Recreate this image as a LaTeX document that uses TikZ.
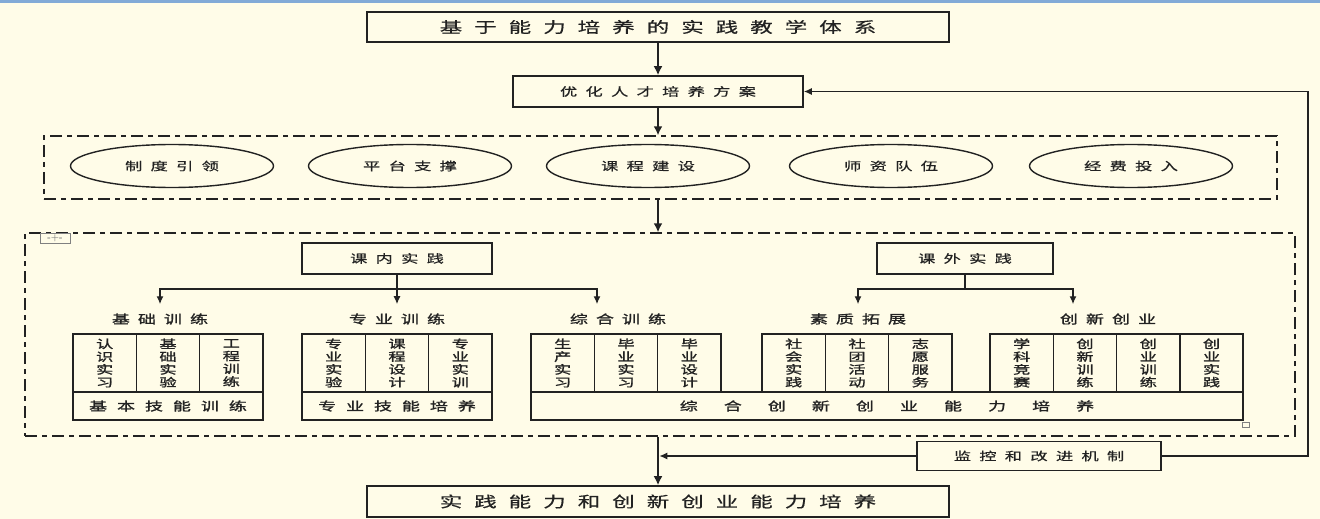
\documentclass[tikz,border=0pt]{standalone}
\usepackage{fontspec}
\usepackage{tikz}
\usetikzlibrary{shapes}
\usetikzlibrary{arrows.meta}
\newfontfamily\cjk[FakeStretch=1.5,FakeBold=0.6]{Noto Sans CJK SC}
\newfontfamily\cjkb[FakeStretch=1.5,FakeBold=1.5]{Noto Sans CJK SC}
\newcommand\fTitle{\cjk\fontsize{15}{18}\selectfont\addfontfeatures{LetterSpace=80}}
\newcommand\fMid{\cjk\fontsize{11.5}{14}\selectfont\addfontfeatures{LetterSpace=72}}
\newcommand\fCat{\cjkb\fontsize{12}{14}\selectfont\addfontfeatures{LetterSpace=67}}
\newcommand\fBase{\cjkb\fontsize{12}{14}\selectfont\addfontfeatures{LetterSpace=83}}
\newcommand\fWide{\cjkb\fontsize{12}{14}\selectfont\addfontfeatures{LetterSpace=217}}
\newcommand\fCol{\cjkb\fontsize{11.5}{12.8}\selectfont}
\definecolor{paper}{RGB}{255,252,232}
\definecolor{ink}{RGB}{34,34,34}
\definecolor{topbar}{RGB}{130,170,215}
\tikzset{
  box/.style={draw=ink,line width=1.6pt,rectangle,inner sep=0pt,text=ink},
  frame/.style={draw=ink,line width=1.4pt,dash pattern=on 12pt off 5pt on 5pt off 5pt,inner sep=0pt},
  oval/.style={draw=ink,line width=1.4pt,ellipse,minimum width=203pt,minimum height=43pt,inner sep=0pt,text=ink,font=\fMid},
  cell/.style={box,minimum width=63.3pt,minimum height=58pt,align=center,font=\fCol},
  base/.style={box,minimum height=28pt},
  lbl/.style={inner xsep=0pt,inner ysep=9pt,text=ink,font=\fCat},
  flow/.style={draw=ink,line width=2.6pt,-{Latex[length=9pt,width=9pt]}},
  link/.style={draw=ink,line width=1.4pt,-{Latex[length=8pt,width=7pt]}},
}
\begin{document}
\begin{tikzpicture}[x=1pt,y=-1pt]
	% page
	\fill[paper] (0,0) rectangle (1320,519);
	\fill[topbar] (0,0) rectangle (1320,3);
	\useasboundingbox (0,0) rectangle (1320,519);
	% top of the flow
	\node[box,minimum width=582pt,minimum height=30pt,font=\fTitle] (title) at (658,27) {基于能力培养的实践教学体系};
	\node[box,minimum width=290pt,minimum height=31pt,font=\fMid] (plan) at (658,91.5) {优化人才培养方案};
	\node[frame,minimum width=1233pt,minimum height=63pt] (support) at (660.5,167.5) {};
	\node[oval] (e1) at (172,166) {制度引领};
	\node[oval] (e2) at (410,166) {平台支撑};
	\node[oval] (e3) at (648,166) {课程建设};
	\node[oval] (e4) at (891,166) {师资队伍};
	\node[oval] (e5) at (1131,166) {经费投入};
	% practice block
	\node[frame,minimum width=1270pt,minimum height=203pt] (practice) at (660,334.5) {};
	\node[draw=gray,line width=0.8pt,minimum width=30pt,minimum height=10pt,inner sep=0pt,font=\fontsize{9}{9}\selectfont\bfseries,text=gray] (grip) at (55,238) {-+-};
	\node[box,minimum width=190pt,minimum height=31pt,font=\fMid] (inner) at (397,258.5) {课内实践};
	\node[box,minimum width=176pt,minimum height=31pt,font=\fMid] (outer) at (965,258.5) {课外实践};
	\node[lbl] (lA) at (160,319) {基础训练};
	\node[lbl] (lB) at (397,319) {专业训练};
	\node[lbl] (lC) at (618,319) {综合训练};
	\node[lbl] (lD) at (858,319) {素质拓展};
	\node[lbl] (lE) at (1108,319) {创新创业};
	% basic training
	\node[cell] (a1) at (104.7,363) {认\\识\\实\\习};
	\node[cell] (a2) at (168,363) {基\\础\\实\\验};
	\node[cell] (a3) at (231.3,363) {工\\程\\训\\练};
	\node[base,minimum width=190pt,font=\fBase] (aB) at (168,406) {基本技能训练};
	% professional training
	\node[cell] (b1) at (333.7,363) {专\\业\\实\\验};
	\node[cell] (b2) at (397,363) {课\\程\\设\\计};
	\node[cell] (b3) at (460.3,363) {专\\业\\实\\训};
	\node[base,minimum width=190pt,font=\fBase] (bB) at (397,406) {专业技能培养};
	% comprehensive
	\node[cell] (c1) at (562.7,363) {生\\产\\实\\习};
	\node[cell] (c2) at (626,363) {毕\\业\\实\\习};
	\node[cell] (c3) at (689.3,363) {毕\\业\\设\\计};
	\node[cell] (d1) at (793.7,363) {社\\会\\实\\践};
	\node[cell] (d2) at (857,363) {社\\团\\活\\动};
	\node[cell] (d3) at (920.3,363) {志\\愿\\服\\务};
	\node[cell] (f1) at (1021.7,363) {学\\科\\竞\\赛};
	\node[cell] (f2) at (1085,363) {创\\新\\训\\练};
	\node[cell] (f3) at (1148.3,363) {创\\业\\训\\练};
	\node[cell] (f4) at (1211.6,363) {创\\业\\实\\践};
	\node[base,minimum width=712pt,font=\fWide] (cB) at (887,406) {综合创新创业能力培养};
	\node[draw=gray,line width=0.8pt,minimum width=7pt,minimum height=5pt,inner sep=0pt] (corner) at (1246,425) {};
	% bottom of the flow
	\node[box,minimum width=244pt,minimum height=29pt,font=\fMid] (monitor) at (1039,456) {监控和改进机制};
	\node[box,minimum width=582pt,minimum height=31pt,font=\fTitle] (result) at (658,501.5) {实践能力和创新创业能力培养};
	% arrows
	\draw[flow] (title) -- (plan);
	\draw[flow] (plan.south) -- (plan.south |- support.north);
	\draw[flow] (support.south -| plan.south) -- (practice.north -| plan.south);
	\draw[flow] (practice.south -| result.north) -- (result.north);
	\draw[link,shorten >=1.3pt] (monitor.west) -- (monitor.west -| result.north);
	\draw[link] (monitor.east) -- ++(146,0) |- (plan.east);
	\draw[link] (inner.south) -- (lB.north);
	\draw[draw=ink,line width=1.4pt] (inner.south) -- ++(0,14) coordinate (hubL);
	\draw[link] (hubL) -| (lA.north);
	\draw[link] (hubL) -| ([xshift=-21pt]lC.north);
	\draw[draw=ink,line width=1.4pt] (outer.south) -- ++(0,14) coordinate (hubR);
	\draw[link] (hubR) -| (lD.north);
	\draw[link] (hubR) -| ([xshift=-35pt]lE.north);
\end{tikzpicture}
\end{document}
